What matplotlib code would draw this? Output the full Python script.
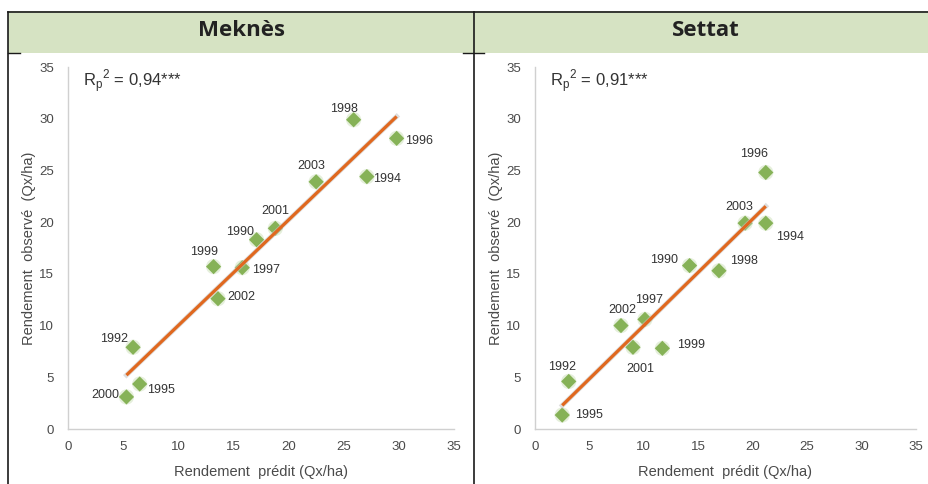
import numpy as np
import matplotlib
matplotlib.use("Agg")
import matplotlib.pyplot as plt
from matplotlib.lines import Line2D
from matplotlib.patches import Rectangle

# ---------------- data ----------------
titles = ["Meknès", "Settat"]
r2_labels = ["0,94***", "0,91***"]

mek_years = ["1998", "1996", "2003", "1994", "2001", "1990", "1999", "1997", "2002", "1992", "1995", "2000"]
mek_pred = [25.9, 29.8, 22.5, 27.1, 18.8, 17.1, 13.2, 15.8, 13.6, 5.9, 6.5, 5.3]
mek_obs = [29.9, 28.1, 23.9, 24.4, 19.4, 18.3, 15.7, 15.6, 12.6, 7.9, 4.35, 3.1]
mek_label_off = [(-10, 11), (22, -3), (-5, 16), (20, -2), (0, 17), (-17, 8), (-10, 15), (24, -2), (23, 2), (-19, 8), (21, -6), (-21, 2)]

set_years = ["1996", "2003", "1994", "1990", "1998", "2002", "1997", "2001", "1999", "1992", "1995"]
set_pred = [21.2, 19.3, 21.2, 14.2, 16.9, 7.9, 10.1, 9.0, 11.7, 3.1, 2.5]
set_obs = [24.8, 19.9, 19.9, 15.8, 15.3, 10.0, 10.6, 7.9, 7.8, 4.6, 1.35]
set_label_off = [(-12, 18), (-6, 16), (24, -14), (-26, 6), (25, 10), (1, 16), (4, 19), (7, -22), (29, 3), (-7, 14), (27, 0)]

ticks = [0, 5, 10, 15, 20, 25, 30, 35]
xlabel = "Rendement  prédit (Qx/ha)"
ylabel = "Rendement  observé  (Qx/ha)"

# ---------------- figure ----------------
W, H = 929, 484
fig = plt.figure(figsize=(W / 100, H / 100), dpi=100)
fig.patch.set_facecolor("white")

plt.rcParams["font.family"] = ["Liberation Sans", "DejaVu Sans"]

def fx(px):
    return px / W

def fy(py):
    return 1 - py / H

# header band and table borders
fig.patches.append(Rectangle((fx(8), fy(53)), fx(929) - fx(8), fy(11) - fy(53),
                             transform=fig.transFigure, facecolor="#d6e3c3", edgecolor="none", zorder=0))
border = "#1a1a1a"
fig.lines.append(Line2D([fx(8), fx(929)], [fy(11.5), fy(11.5)], transform=fig.transFigure, color=border, lw=1.2))
fig.lines.append(Line2D([fx(8), fx(8)], [fy(11.5), fy(484)], transform=fig.transFigure, color=border, lw=1.2))
fig.lines.append(Line2D([fx(474), fx(474)], [fy(11.5), fy(484)], transform=fig.transFigure, color=border, lw=1.2))
fig.lines.append(Line2D([fx(8), fx(20)], [fy(53), fy(53)], transform=fig.transFigure, color=border, lw=1.0))
fig.lines.append(Line2D([fx(463), fx(484)], [fy(53), fy(53)], transform=fig.transFigure, color=border, lw=1.0))

fig.text(fx(242), fy(31), titles[0], ha="center", va="center", fontsize=16, fontweight="bold",
         family=["Open Sans", "DejaVu Sans"], color="#222222")
fig.text(fx(706), fy(31), titles[1], ha="center", va="center", fontsize=16, fontweight="bold",
         family=["Open Sans", "DejaVu Sans"], color="#222222")

axes_px = [(68, 454), (535, 916)]
top_px, bot_px = 67, 429

panels = [
    (mek_pred, mek_obs, mek_years, mek_label_off, r2_labels[0]),
    (set_pred, set_obs, set_years, set_label_off, r2_labels[1]),
]

for (x0, x1), (xp, yo, yrs, offs, r2) in zip(axes_px, panels):
    ax = fig.add_axes([fx(x0), fy(bot_px), fx(x1) - fx(x0), fy(top_px) - fy(bot_px)])
    ax.set_facecolor("none")
    ax.set_xlim(0, 35)
    ax.set_ylim(0, 35)
    ax.set_xticks(ticks)
    ax.set_yticks(ticks)
    for s in ["top", "right"]:
        ax.spines[s].set_visible(False)
    for s in ["left", "bottom"]:
        ax.spines[s].set_color("#d0d0d0")
        ax.spines[s].set_linewidth(1.0)
    ax.tick_params(length=0, labelsize=9.5, labelcolor="#4a4a4a", pad=9)
    ax.tick_params(axis="y", pad=10)
    ax.set_xlabel(xlabel, fontsize=10.5, color="#4a4a4a", labelpad=8)
    ax.set_ylabel(ylabel, fontsize=10.5, color="#4a4a4a", labelpad=2)

    xs = np.array(xp)
    ys = np.array(yo)
    # soft halo + marker
    ax.scatter(xs, ys, s=120, color="#c6ddb0", alpha=0.45, edgecolors="none", marker="o", zorder=3)
    ax.scatter(xs, ys, s=60, color="#86b257", edgecolors="none", marker="D", zorder=4)

    a, b = np.polyfit(xs, ys, 1)
    lx = np.array([xs.min(), xs.max()])
    ax.plot(lx, a * lx + b, color="#c8c8c8", lw=3.5, alpha=0.6, zorder=5)
    ax.plot(lx, a * lx + b, color="#e0681f", lw=2.3, zorder=6, solid_capstyle="butt")

    for yr, x, y, (dx, dy) in zip(yrs, xs, ys, offs):
        ax.annotate(yr, (x, y), xytext=(dx * 0.72, dy * 0.72), textcoords="offset points",
                    ha="center", va="center", fontsize=9, color="#333333", zorder=7)

    ax.text(0.04, 0.96, r"R$_\mathregular{p}$$^\mathregular{2}$ = " + r2, transform=ax.transAxes,
            ha="left", va="center", fontsize=12, color="#333333")

fig.savefig("out.png", dpi=100, facecolor="white")
